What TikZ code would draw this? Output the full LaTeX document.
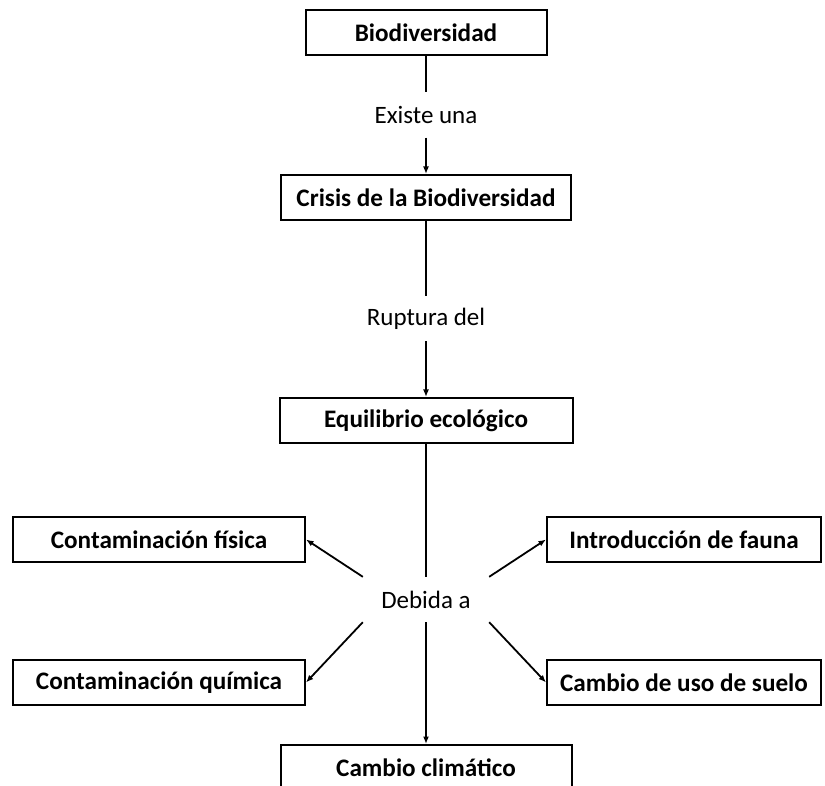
\documentclass[tikz,border=0pt]{standalone}
\usepackage{fontspec}
\setmainfont{Carlito}
\usetikzlibrary{arrows.meta}
\begin{document}
\begin{tikzpicture}[x=1pt,y=-1pt,
  box/.style={draw=black,line width=2pt,minimum height=45pt,inner sep=0pt,
    font=\fontsize{25.2}{30}\selectfont\bfseries},
  lbl/.style={inner sep=0pt,minimum height=45pt,font=\fontsize{25}{30}\selectfont},
  conn/.style={line width=1.8pt},
  arr/.style={conn,-{Latex[length=7.5pt,width=6pt]}}]
\useasboundingbox (0,0) rectangle (825,786);
\clip (0,0) rectangle (825,786);
\node[box,minimum width=241pt] (bio) at (426,32.5) {Biodiversidad};
\node[lbl] (existe) at (426,115) {Existe una};
\node[box,minimum width=290pt] (crisis) at (426,197.5) {Crisis de la Biodiversidad};
\node[lbl] (ruptura) at (426,318.5) {Ruptura del};
\node[box,minimum width=293pt] (equi) at (426,420.5) {Equilibrio ecológico};
\node[lbl,minimum width=126pt] (debida) at (426,599.5) {Debida a};
\node[box,minimum width=292pt] (fisica) at (159,539.5) {Contaminación física};
\node[box,minimum width=292pt] (quimica) at (159,682.5) {Contaminación química};
\node[box,minimum width=274pt] (fauna) at (684,539.5) {Introducción de fauna};
\node[box,minimum width=274pt] (suelo) at (684,682.5) {Cambio de uso de suelo};
\node[box,minimum width=291pt] (clima) at (426,767.5) {Cambio climático};
\draw[conn] (bio) -- (existe);
\draw[arr] (existe) -- (crisis);
\draw[conn] (crisis) -- (ruptura);
\draw[arr] (ruptura) -- (equi);
\draw[conn] (equi) -- (debida);
\draw[arr] (debida.north west) -- (fisica.east);
\draw[arr] (debida.north east) -- (fauna.west);
\draw[arr] (debida.south west) -- (quimica.east);
\draw[arr] (debida.south east) -- (suelo.west);
\draw[arr] (debida) -- (clima);
\end{tikzpicture}
\end{document}
